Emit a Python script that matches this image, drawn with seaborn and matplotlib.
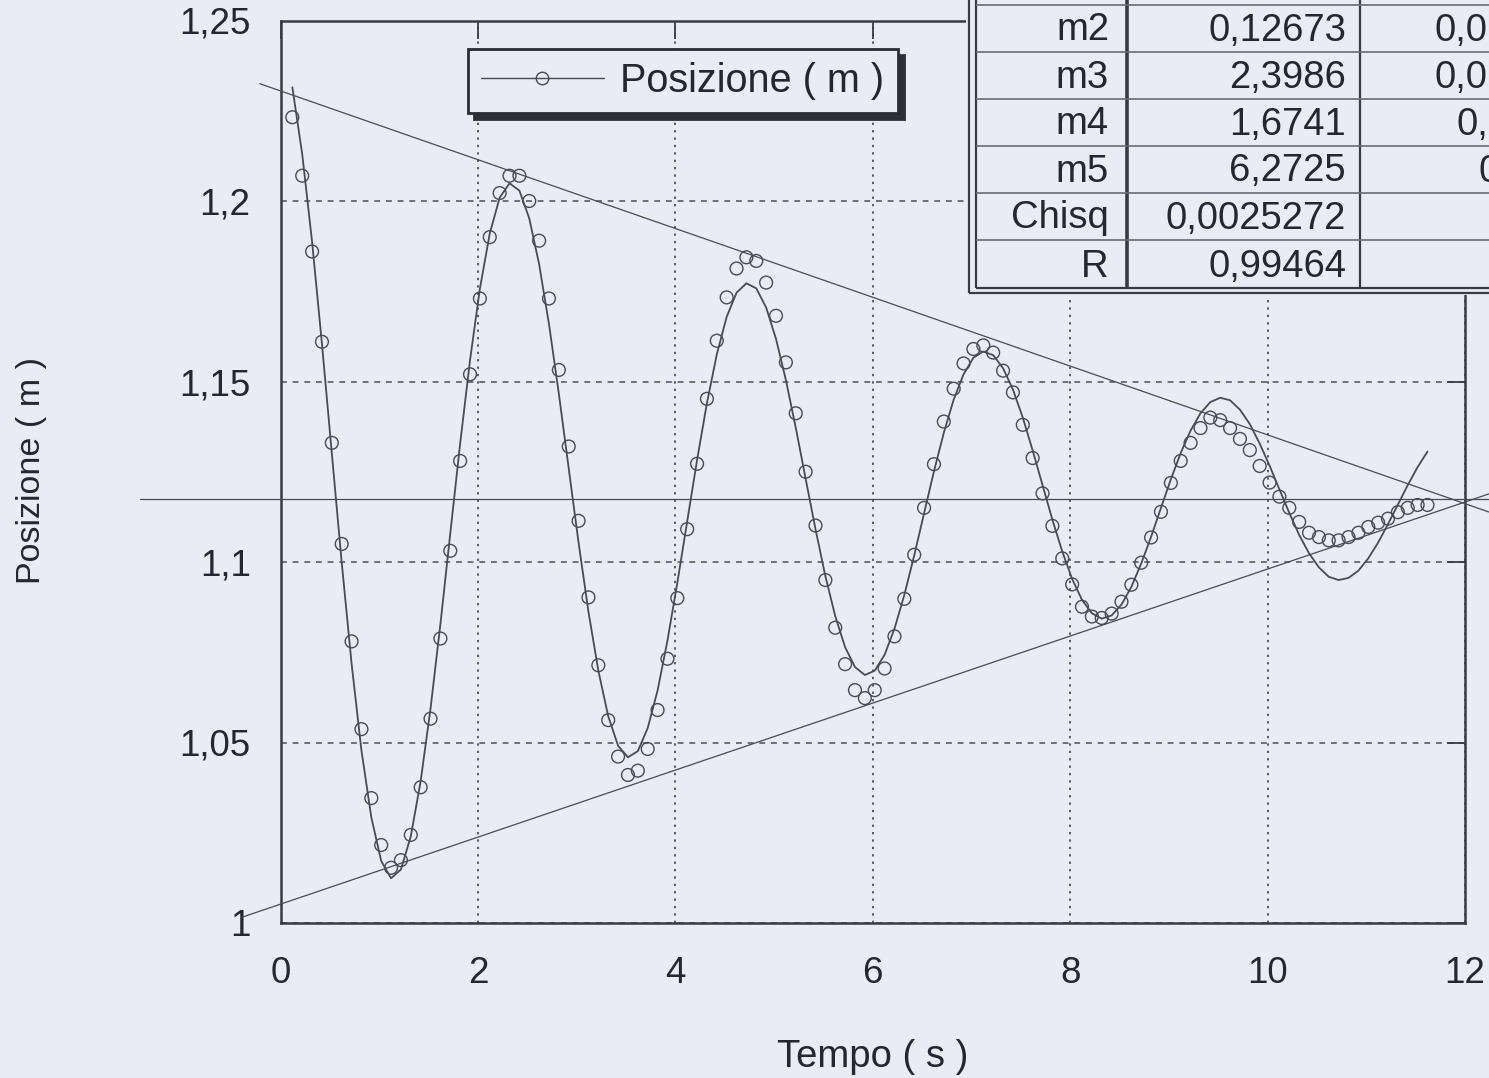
import numpy as np
import pandas as pd
import matplotlib
matplotlib.use("Agg")
import matplotlib.pyplot as plt
from matplotlib.lines import Line2D
from matplotlib.patches import Rectangle
import seaborn as sns

# ---------------- data ----------------
t_s = [0.12, 0.22, 0.32, 0.42, 0.52, 0.62, 0.72, 0.82, 0.92, 1.02,
       1.12, 1.22, 1.32, 1.42, 1.52, 1.62, 1.72, 1.82, 1.92, 2.02,
       2.12, 2.22, 2.32, 2.42, 2.52, 2.62, 2.72, 2.82, 2.92, 3.02,
       3.12, 3.22, 3.32, 3.42, 3.52, 3.62, 3.72, 3.82, 3.92, 4.02,
       4.12, 4.22, 4.32, 4.42, 4.52, 4.62, 4.72, 4.82, 4.92, 5.02,
       5.12, 5.22, 5.32, 5.42, 5.52, 5.62, 5.72, 5.82, 5.92, 6.02,
       6.12, 6.22, 6.32, 6.42, 6.52, 6.62, 6.72, 6.82, 6.92, 7.02,
       7.12, 7.22, 7.32, 7.42, 7.52, 7.62, 7.72, 7.82, 7.92, 8.02,
       8.12, 8.22, 8.32, 8.42, 8.52, 8.62, 8.72, 8.82, 8.92, 9.02,
       9.12, 9.22, 9.32, 9.42, 9.52, 9.62, 9.72, 9.82, 9.92, 10.02,
       10.12, 10.22, 10.32, 10.42, 10.52, 10.62, 10.72, 10.82, 10.92, 11.02,
       11.12, 11.22, 11.32, 11.42, 11.52, 11.62]

pos_m = [1.2232, 1.207, 1.186, 1.161, 1.133, 1.105, 1.078, 1.0537, 1.0346, 1.0216,
         1.0153, 1.0174, 1.0244, 1.0376, 1.0566, 1.0788, 1.1031, 1.128, 1.152, 1.173,
         1.190, 1.2022, 1.207, 1.207, 1.200, 1.189, 1.173, 1.1532, 1.132, 1.1114,
         1.0902, 1.0714, 1.0562, 1.0461, 1.041, 1.0422, 1.0482, 1.059, 1.0732, 1.090,
         1.1091, 1.1272, 1.1452, 1.1613, 1.1733, 1.1813, 1.1844, 1.1834, 1.1774, 1.1682,
         1.1553, 1.1412, 1.125, 1.1101, 1.095, 1.0818, 1.0717, 1.0645, 1.0623, 1.0645,
         1.0705, 1.0794, 1.0898, 1.102, 1.115, 1.1271, 1.1389, 1.148, 1.155, 1.159,
         1.160, 1.158, 1.153, 1.147, 1.138, 1.1288, 1.119, 1.110, 1.101, 1.0938,
         1.0876, 1.0849, 1.0845, 1.0857, 1.089, 1.0937, 1.0998, 1.1068, 1.1139, 1.1219,
         1.128, 1.133, 1.1371, 1.140, 1.1393, 1.1371, 1.1341, 1.131, 1.1266, 1.122,
         1.1181, 1.115, 1.1111, 1.1081, 1.1069, 1.106, 1.106, 1.1069, 1.1081, 1.1097,
         1.1109, 1.112, 1.1138, 1.115, 1.1158, 1.1158]

fit_m = [1.2315, 1.2130, 1.1887, 1.1604, 1.1301, 1.0999, 1.0719, 1.0478, 1.0293, 1.0172,
         1.0124, 1.0148, 1.0240, 1.0393, 1.0594, 1.0828, 1.1079, 1.1328, 1.1559, 1.1757,
         1.1910, 1.2009, 1.2049, 1.2029, 1.1952, 1.1825, 1.1659, 1.1466, 1.1259, 1.1053,
         1.0862, 1.0699, 1.0573, 1.0491, 1.0459, 1.0476, 1.0540, 1.0644, 1.0782, 1.0942,
         1.1112, 1.1282, 1.1440, 1.1575, 1.1679, 1.1746, 1.1772, 1.1758, 1.1705, 1.1618,
         1.1504, 1.1372, 1.1231, 1.1091, 1.0961, 1.0850, 1.0764, 1.0709, 1.0687, 1.0699,
         1.0743, 1.0815, 1.0909, 1.1018, 1.1135, 1.1251, 1.1358, 1.1450, 1.1520, 1.1566,
         1.1583, 1.1573, 1.1537, 1.1478, 1.1400, 1.1309, 1.1213, 1.1117, 1.1029, 1.0953,
         1.0895, 1.0858, 1.0843, 1.0852, 1.0882, 1.0931, 1.0996, 1.1070, 1.1150, 1.1229,
         1.1302, 1.1364, 1.1412, 1.1443, 1.1455, 1.1448, 1.1422, 1.1382, 1.1328, 1.1267,
         1.1201, 1.1136, 1.1075, 1.1024, 1.0985, 1.0959, 1.0950, 1.0956, 1.0976, 1.1010,
         1.1054, 1.1105, 1.1159, 1.1213, 1.1263, 1.1306]

# hand-drawn reference lines (extend beyond the axes)
mid_t = [-1.42, 12.3]
mid_y = [1.1175, 1.1175]
upper_t = [-0.21, 12.3]
upper_y = [1.2325, 1.1133]
lower_t = [-0.39, 12.3]
lower_y = [1.0016, 1.1194]

x_ticks = [0, 2, 4, 6, 8, 10, 12]
x_tick_labels = ["0", "2", "4", "6", "8", "10", "12"]
y_ticks = [1.0, 1.05, 1.1, 1.15, 1.2, 1.25]
y_tick_labels = ["1", "1,05", "1,1", "1,15", "1,2", "1,25"]

x_label = "Tempo ( s )"
y_label = "Posizione ( m )"
legend_label = "Posizione ( m )"

table_names = ["m2", "m3", "m4", "m5", "Chisq", "R"]
table_values = ["0,12673", "2,3986", "1,6741", "6,2725", "0,0025272", "0,99464"]
table_errors_visible = ["0,0", "0,0", "0,", "0", "", ""]

# ---------------- style ----------------
BG = "#EBEBF5"
LC = "#4a4a54"
GC = "#5a5a64"
TXT = "#26262f"

sns.set_style("white")
plt.rcParams["font.family"] = ["Liberation Sans", "DejaVu Sans"]

W, H = 1489, 1078
fig = plt.figure(figsize=(W / 100, H / 100), dpi=100, facecolor=BG)
L, R, T, B = 280.5, 1465.0, 20.5, 923.0
ax = fig.add_axes([L / W, 1 - B / H, (R - L) / W, (B - T) / H])
ax.set_facecolor(BG)

df = pd.DataFrame({"t": t_s, "pos": pos_m, "fit": fit_m})

sns.lineplot(data=df, x="t", y="fit", color=LC, lw=1.3, ax=ax, zorder=3)
sns.scatterplot(data=df, x="t", y="pos", marker="o", s=85, color=LC, ax=ax, zorder=4)
coll = ax.collections[-1]
coll.set_facecolor("none")
coll.set_edgecolor(LC)
coll.set_linewidth(1.0)

for xs, ys in [(mid_t, mid_y), (upper_t, upper_y), (lower_t, lower_y)]:
    sns.lineplot(x=xs, y=ys, color=LC, lw=0.9, ax=ax, clip_on=False, zorder=3)

ax.set_xlim(0, 12)
ax.set_ylim(1.0, 1.25)
ax.set_xticks(x_ticks)
ax.set_xticklabels(x_tick_labels)
ax.set_yticks(y_ticks)
ax.set_yticklabels(y_tick_labels)
ax.tick_params(direction="in", length=13, width=1.3, color="#3a3a44",
               top=True, right=True, labelsize=26.5, labelcolor=TXT)
ax.tick_params(axis="y", pad=21.5)
ax.tick_params(axis="x", pad=24)

ax.xaxis.grid(True, linestyle=(0, (1.2, 2.6)), lw=1.4, color=GC)
ax.yaxis.grid(True, linestyle=(0, (3.5, 3.5)), lw=1.2, color=GC)

for sp in ax.spines.values():
    sp.set_visible(True)
    sp.set_linewidth(1.8)
    sp.set_color("#3a3a44")

ax.set_xlabel(x_label, fontsize=27.5, color=TXT)
ax.xaxis.set_label_coords(0.5, (B - 1057) / (B - T))
ax.xaxis.label.set_va("center")
ax.set_ylabel(y_label, fontsize=24.5, color=TXT)
ax.yaxis.set_label_coords((32 - L) / (R - L), (B - 470) / (B - T))
ax.yaxis.label.set_va("center")

handle = Line2D([], [], color=LC, lw=1.0, marker="o", ms=9, mfc="none", mec=LC, mew=1.0)
leg = ax.legend([handle], [legend_label], loc="upper left",
                bbox_to_anchor=(468 / W, 1 - 49 / H), bbox_transform=fig.transFigure,
                borderaxespad=0, frameon=True, fancybox=False, fontsize=28.5,
                handlelength=3.1, handletextpad=0.42, borderpad=0.33,
                framealpha=1, facecolor=BG, edgecolor="#2a2a33",
                shadow={"ox": 4.5, "oy": -4.5, "color": "#2e2e38", "alpha": 1.0})
leg.get_frame().set_linewidth(2.0)
for txt in leg.get_texts():
    txt.set_color(TXT)


# ---------------- fit-parameter table (top right) ----------------
def fx(px):
    return px / W


def fy(py):
    return 1 - py / H


fig.add_artist(Rectangle((fx(966), fy(295)), (W + 20 - 966) / W, (295 + 20) / H,
                         transform=fig.transFigure, facecolor=BG, edgecolor="none", zorder=5))


def fline(x1, y1, x2, y2, lw, color="#3a3a44"):
    fig.add_artist(Line2D([fx(x1), fx(x2)], [fy(y1), fy(y2)], transform=fig.transFigure,
                          color=color, lw=lw, zorder=6, solid_capstyle="butt"))


# double outer border
fline(968.5, -5, 968.5, 293.5, 1.6)
fline(975.5, -5, 975.5, 287.5, 1.6)
fline(968.5, 293.5, W + 5, 293.5, 1.6)
fline(975.5, 287.5, W + 5, 287.5, 1.6)
# column dividers
fline(1126.5, -5, 1126.5, 287.5, 2.6)
fline(1359.5, -5, 1359.5, 287.5, 1.6)
# row separators
for yy in [4.5, 51.5, 98.5, 145.5, 192.5, 239.5]:
    fline(975.5, yy, W + 5, yy, 1.2, color="#6a6a74")

baselines = [40.5, 87.5, 134.5, 181.5, 228.5, 277.0]
for name, val, yb in zip(table_names, table_values, baselines):
    fig.text(fx(1109), fy(yb), name, ha="right", va="baseline", fontsize=27.5, color=TXT, zorder=7)
    fig.text(fx(1346), fy(yb), val, ha="right", va="baseline", fontsize=27.5, color=TXT, zorder=7)
err_x = [1434, 1434, 1456, 1478, 1478, 1478]
for err, xx, yb in zip(table_errors_visible, err_x, baselines):
    if err:
        fig.text(fx(xx), fy(yb), err, ha="left", va="baseline", fontsize=27.5, color=TXT, zorder=7)

fig.savefig("out.png", dpi=100, facecolor=BG)
